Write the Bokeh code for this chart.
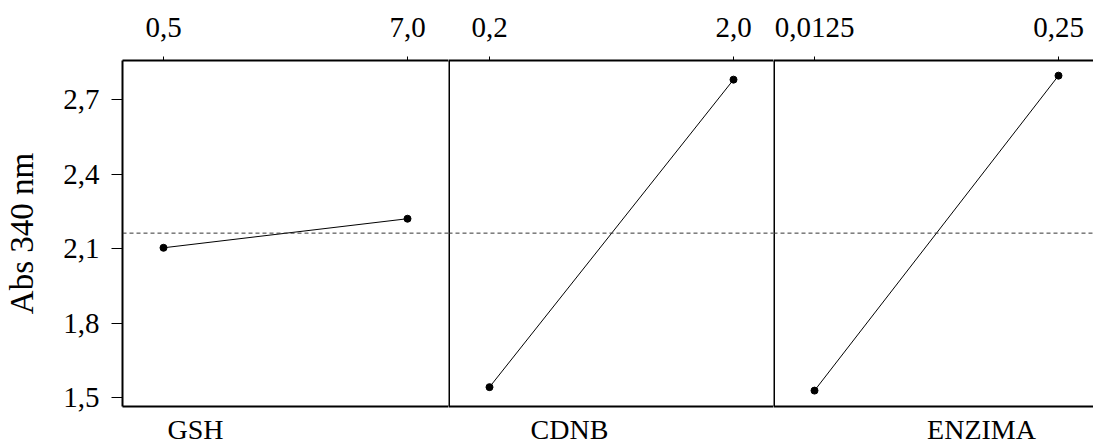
from bokeh.plotting import figure
from bokeh.layouts import gridplot
from bokeh.models import Range1d, FixedTicker, LinearAxis, Span, Label
from bokeh.embed import file_html
from bokeh.resources import INLINE

# ---------------- data ----------------
factor_names = ["GSH", "CDNB", "ENZIMA"]
gsh_levels = [0.5, 7.0]
gsh_labels = ["0,5", "7,0"]
gsh_means = [2.104, 2.221]
cdnb_levels = [0.2, 2.0]
cdnb_labels = ["0,2", "2,0"]
cdnb_means = [1.543, 2.781]
enz_levels = [0.0125, 0.25]
enz_labels = ["0,0125", "0,25"]
enz_means = [1.529, 2.797]
grand_mean = 2.163
y_ticks = [1.5, 1.8, 2.1, 2.4, 2.7]
y_tick_labels = ["1,5", "1,8", "2,1", "2,4", "2,7"]
y_label = "Abs 340 nm"

# ---------------- layout ----------------
FONT = "Liberation Serif"
Y0, Y1 = 1.465, 2.858
TOP, FRAME_H, BOTTOM = 60, 346, 7
H_MAIN = TOP + FRAME_H + BOTTOM
H_LAB = 445 - H_MAIN
LEFT = 122
frame_widths = [326, 325, 320]
LO_PX, HI_PX = 41, 285          # pixel position of the two levels inside a panel
label_px = [73, 121, 208]       # centre of the factor name inside a panel

panels = [
    (factor_names[0], gsh_levels, gsh_labels, gsh_means),
    (factor_names[1], cdnb_levels, cdnb_labels, cdnb_means),
    (factor_names[2], enz_levels, enz_labels, enz_means),
]

y_range = Range1d(Y0, Y1)
row_main, row_lab = [], []
for i, (name, lv, lb, mv) in enumerate(panels):
    fw = frame_widths[i]
    s = (lv[1] - lv[0]) / (HI_PX - LO_PX)
    x0 = lv[0] - LO_PX * s
    x1 = x0 + fw * s
    xr = Range1d(x0, x1)
    left = LEFT if i == 0 else 0
    p = figure(width=fw + left, height=H_MAIN, x_range=xr, y_range=y_range,
               output_backend="svg", toolbar_location=None,
               x_axis_location=None, y_axis_location=None,
               min_border_left=left, min_border_right=0,
               min_border_top=TOP, min_border_bottom=BOTTOM,
               outline_line_color=None,
               background_fill_color="white", border_fill_color="white")
    p.grid.visible = False

    # top axis with factor levels
    top = LinearAxis(ticker=FixedTicker(ticks=lv),
                     major_label_overrides={v: t for v, t in zip(lv, lb)},
                     major_label_text_font=FONT, major_label_text_font_size="29px",
                     major_label_text_color="black", major_label_standoff=20,
                     major_tick_out=4, major_tick_in=0, major_tick_line_color="black",
                     minor_tick_line_color=None,
                     axis_line_color="black", axis_line_width=2)
    p.add_layout(top, "above")

    # bottom border line
    bot = LinearAxis(ticker=FixedTicker(ticks=[]), major_tick_out=0, major_tick_in=0,
                     major_label_standoff=0, minor_tick_line_color=None,
                     axis_line_color="black", axis_line_width=2)
    p.add_layout(bot, "below")

    if i == 0:
        ya = LinearAxis(ticker=FixedTicker(ticks=y_ticks),
                        major_label_overrides={v: t for v, t in zip(y_ticks, y_tick_labels)},
                        major_label_text_font=FONT, major_label_text_font_size="29px",
                        major_label_text_color="black", major_label_standoff=12,
                        major_tick_out=11, major_tick_in=0, major_tick_line_color="black",
                        minor_tick_line_color=None,
                        axis_line_color="black", axis_line_width=2,
                        axis_label=y_label, axis_label_text_font=FONT,
                        axis_label_text_font_size="33px", axis_label_text_font_style="normal",
                        axis_label_text_color="black", axis_label_standoff=20)
        p.add_layout(ya, "left")
    else:
        p.add_layout(Span(location=x0, dimension="height", line_color="black", line_width=3))

    # grand mean reference line
    p.add_layout(Span(location=grand_mean, dimension="width", line_color="#333333",
                      line_width=1, line_dash="4 3"))

    p.line(lv, mv, line_color="black", line_width=1)
    p.scatter(lv, mv, size=7, color="black")
    row_main.append(p)

    # factor name below the panel
    q = figure(width=fw + left, height=H_LAB, x_range=xr, y_range=Range1d(0, H_LAB),
               output_backend="svg", toolbar_location=None,
               x_axis_location=None, y_axis_location=None,
               min_border_left=left, min_border_right=0,
               min_border_top=0, min_border_bottom=0,
               outline_line_color=None,
               background_fill_color="white", border_fill_color="white")
    q.grid.visible = False
    q.add_layout(Label(x=x0 + label_px[i] * s, y=H_LAB, text=name,
                       text_font=FONT, text_font_size="28px", text_color="black",
                       text_align="center", text_baseline="top"))
    row_lab.append(q)

grid = gridplot([row_main, row_lab], toolbar_location=None)
open("out.html", "w").write(file_html(grid, INLINE))
